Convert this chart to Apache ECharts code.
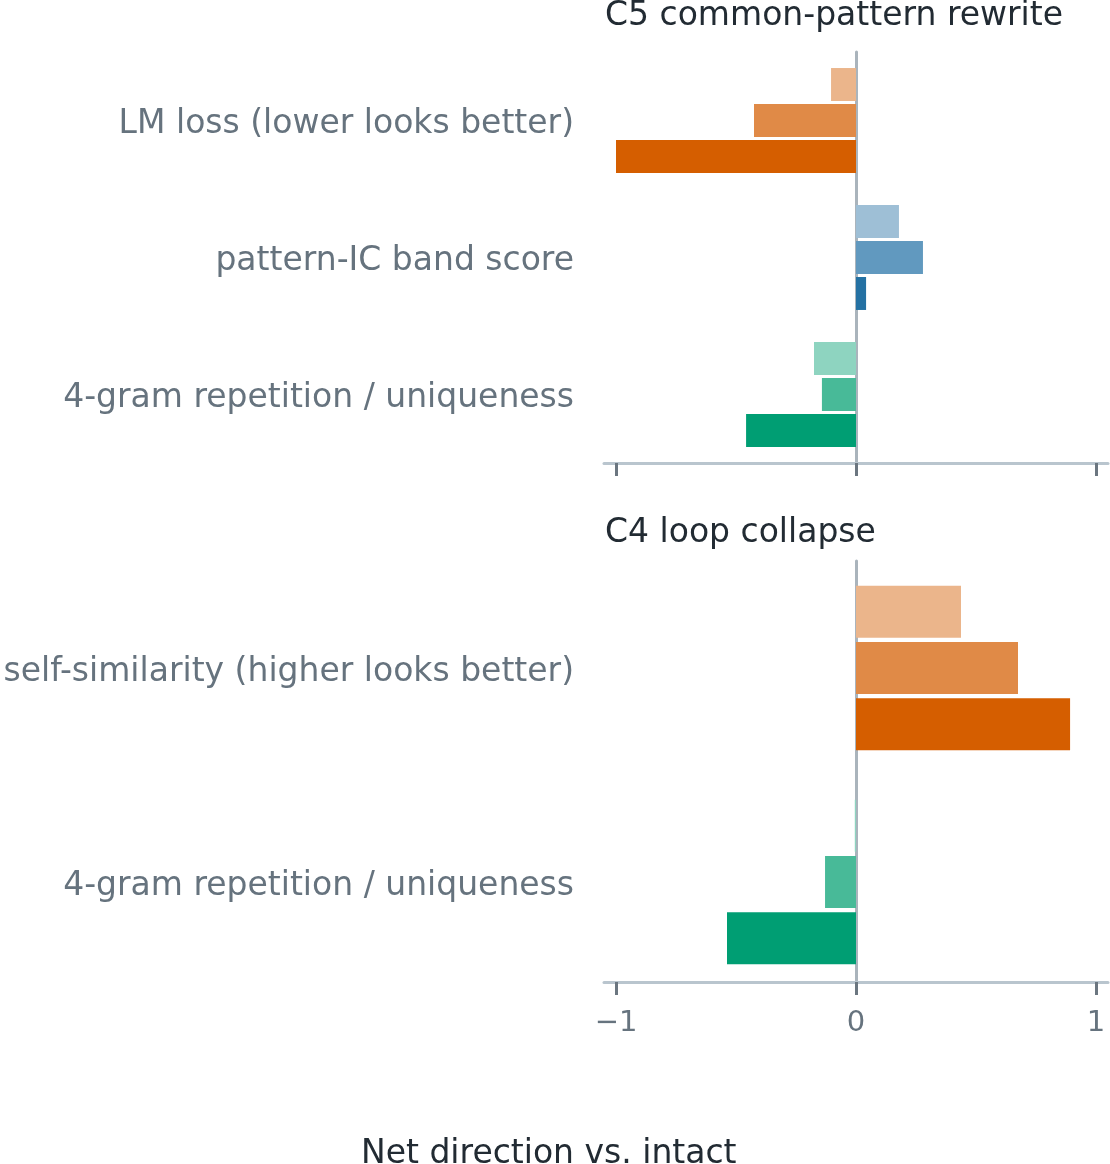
<!DOCTYPE html>
<html>
<head>
<meta charset="utf-8">
<script src="https://cdn.jsdelivr.net/npm/echarts@6/dist/echarts.min.js"></script>
<style>
  html, body { margin: 0; padding: 0; background: #fff; }
  #chart { width: 1110px; height: 1164px; }
</style>
</head>
<body>
<div id="chart"></div>
<script>
// panel C5
var c5Categories = ['LM loss (lower looks better)', 'pattern-IC band score', '4-gram repetition / uniqueness'];
var c5Light = [-0.104, 0.179, -0.175];
var c5Mid = [-0.425, 0.279, -0.142];
var c5Dark = [-1.0, 0.042, -0.458];
var c5Family = ['orange', 'blue', 'green'];

// panel C4
var c4Categories = ['self-similarity (higher looks better)', '4-gram repetition / uniqueness'];
var c4Light = [0.4375, -0.005];
var c4Mid = [0.675, -0.129];
var c4Dark = [0.892, -0.5375];
var c4Family = ['orange', 'green'];

var xTicks = [-1, 0, 1];

var palette = {
  orange: ['#ebb58b', '#e08a47', '#d55e00'],
  blue: ['#9ebfd6', '#6199bf', '#2471a3'],
  green: ['#8ed4c0', '#48ba98', '#009e73']
};

var font = 'DejaVu Sans';
var labelColor = '#66737e';

function items(values, families, shade) {
  return values.map(function (v, i) {
    return { value: v, itemStyle: { color: palette[families[i]][shade] } };
  });
}

function fmt(v) {
  return v < 0 ? '\u2212' + Math.abs(v) : String(v);
}

function makeX(gridIndex, showLabels, offset) {
  return {
    type: 'value',
    gridIndex: gridIndex,
    min: -1.05,
    max: 1.05,
    offset: offset,
    splitLine: { show: false },
    axisLine: { show: true, onZero: false, lineStyle: { color: '#b9c5ce', width: 3 } },
    axisTick: { show: true, customValues: xTicks, length: 13, lineStyle: { color: '#6b7680', width: 3 } },
    axisLabel: {
      show: showLabels, customValues: xTicks, formatter: fmt,
      fontSize: 29, color: labelColor, fontFamily: font, margin: 27
    }
  };
}

function makeY(gridIndex, cats) {
  return {
    type: 'category',
    gridIndex: gridIndex,
    data: cats,
    inverse: true,
    axisTick: { show: false },
    axisLine: { show: true, onZero: true, lineStyle: { color: '#aab4bc', width: 3 } },
    axisLabel: {
      margin: 30,
      formatter: function (v) { return '{t|' + v + '}'; },
      rich: { t: { fontSize: 33, color: labelColor, fontFamily: font, padding: [8, 0, 0, 0] } }
    }
  };
}

function makeSeries(idx, light, mid, dark, families, width, gap) {
  return [light, mid, dark].map(function (vals, shade) {
    return {
      type: 'bar',
      xAxisIndex: idx,
      yAxisIndex: idx,
      barWidth: width,
      barGap: gap,
      data: items(vals, families, shade)
    };
  });
}

var titleStyle = { fontSize: 33, fontWeight: 'normal', color: '#222b33', fontFamily: font };

var chart = echarts.init(document.getElementById('chart'));
var option = {
  animation: false,
  title: [
    { text: 'C5 common-pattern rewrite', left: 600, top: -5, textStyle: titleStyle },
    { text: 'C4 loop collapse', left: 600, top: 512, textStyle: titleStyle },
    { text: 'Net direction vs. intact', left: 356, top: 1133, textStyle: titleStyle }
  ],
  grid: [
    { left: 604, right: 2, top: 52, height: 411 },
    { left: 604, right: 2, top: 561, height: 428 }
  ],
  xAxis: [makeX(0, false, 0), makeX(1, true, -7)],
  yAxis: [makeY(0, c5Categories), makeY(1, c4Categories)],
  series: makeSeries(0, c5Light, c5Mid, c5Dark, c5Family, 33, '9%')
    .concat(makeSeries(1, c4Light, c4Mid, c4Dark, c4Family, 52, '8%'))
};
chart.setOption(option);
</script>
</body>
</html>
